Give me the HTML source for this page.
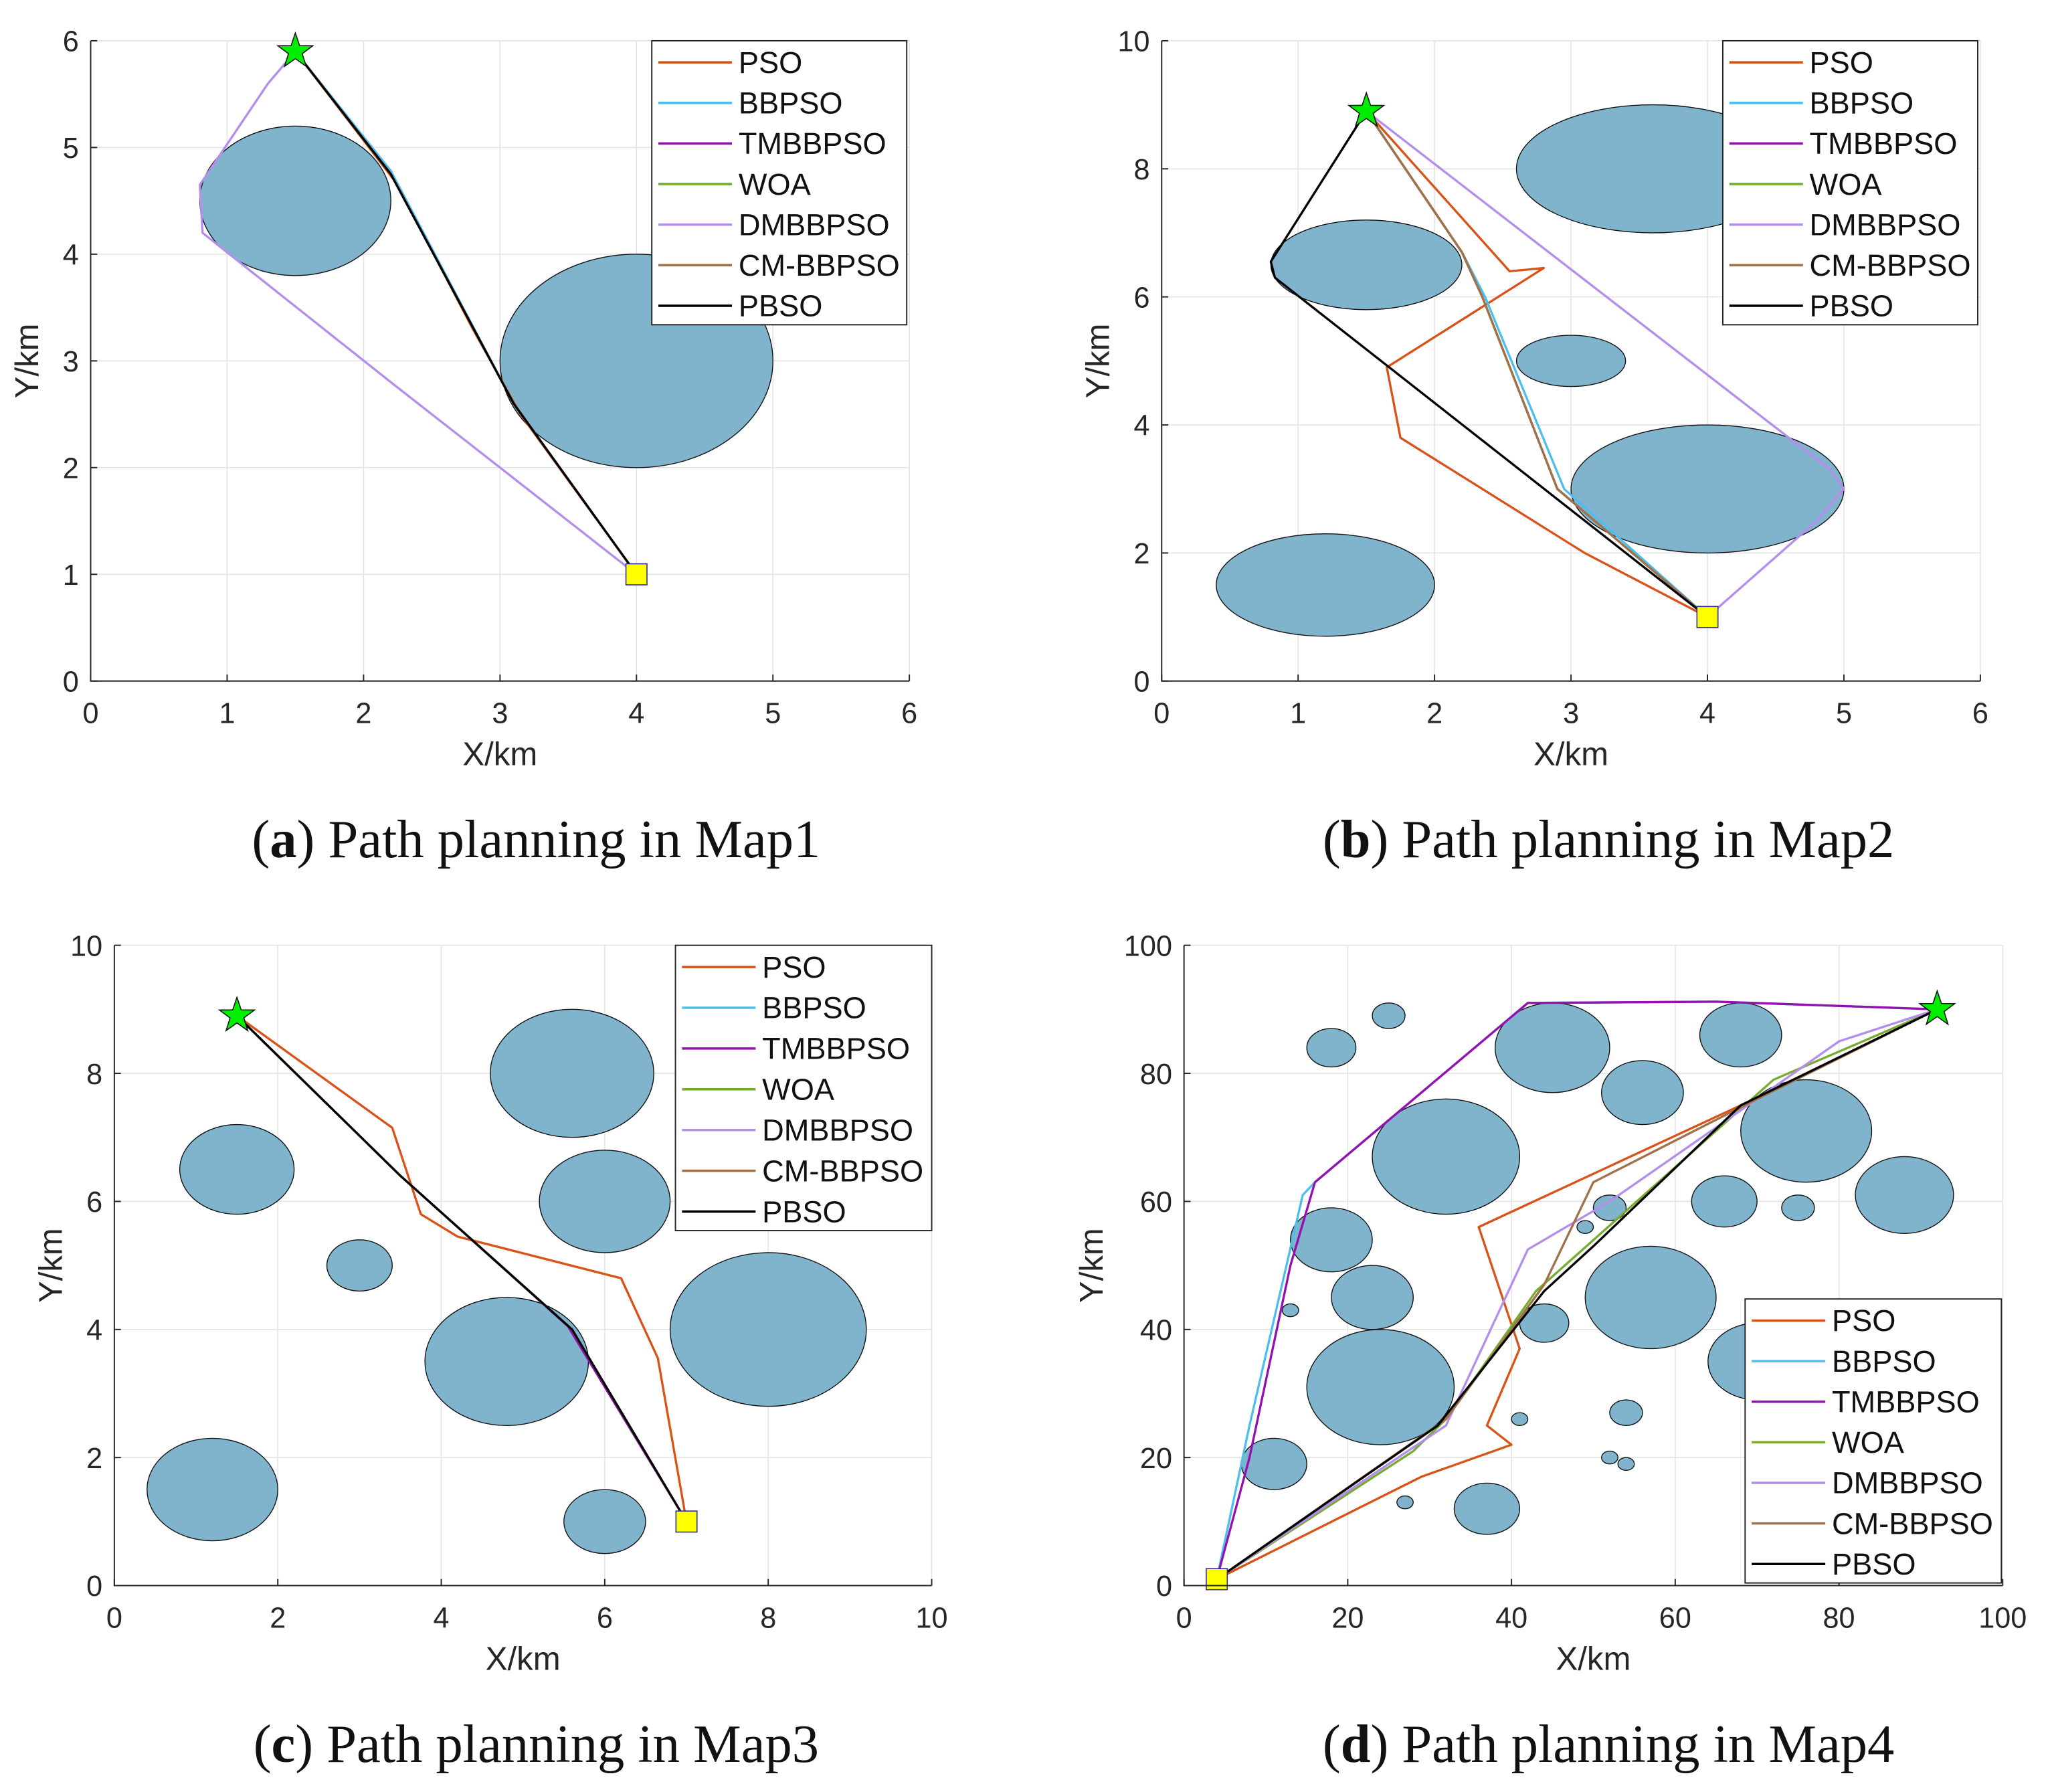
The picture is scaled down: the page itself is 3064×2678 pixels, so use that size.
<!DOCTYPE html>
<html><head><meta charset="utf-8"><style>
html,body{margin:0;padding:0;background:#fff;}
svg{display:block;}
</style></head><body>
<svg id="fig" width="3064" height="2678" viewBox="0 0 1560 1363" preserveAspectRatio="none" xmlns="http://www.w3.org/2000/svg"></svg>
<script>
// ---- series names & colors ----
const seriesNames = ["PSO","BBPSO","TMBBPSO","WOA","DMBBPSO","CM-BBPSO","PBSO"];
const seriesColors = ["#D95319","#4DBEEE","#9410B0","#77AC30","#B48EEB","#A0724A","#000000"];

// ---- Map1 data ----
const m1Obstacles = [[1.5,4.5,0.7],[4,3,1]];
const m1Start = [1.5,5.9];
const m1Goal = [4,1];
const m1PSO = [[1.5,5.9],[2.25,4.65],[2.8,3.3],[3.15,2.5],[4,1]];
const m1BBPSO = [[1.5,5.9],[2.2,4.78],[3.1,2.6],[4,1]];
const m1TMBBPSO = [[1.5,5.9],[2.2,4.75],[3.1,2.6],[4,1]];
const m1WOA = [[1.5,5.9],[2.2,4.75],[3.1,2.6],[4,1]];
const m1DMBBPSO = [[1.5,5.9],[1.3,5.6],[0.8,4.65],[0.82,4.2],[2.2,2.8],[4,1]];
const m1CMBBPSO = [[1.5,5.9],[2.2,4.75],[3.1,2.6],[4,1]];
const m1PBSO = [[1.5,5.9],[2.2,4.75],[3.1,2.6],[4,1]];

// ---- Map2 data ----
const m2Obstacles = [[3.6,8,1],[1.5,6.5,0.7],[3,5,0.4],[4,3,1],[1.2,1.5,0.8]];
const m2Start = [1.5,8.9];
const m2Goal = [4,1];
const m2PSO = [[1.5,8.9],[2.55,6.4],[2.8,6.45],[1.65,4.9],[1.75,3.8],[3.1,2.0],[4,1]];
const m2BBPSO = [[1.5,8.9],[2.2,6.7],[2.37,6.0],[2.95,3.0],[4,1]];
const m2TMBBPSO = [[1.5,8.9],[2.2,6.7],[2.35,6.0],[2.9,3.0],[4,1]];
const m2WOA = [[1.5,8.9],[2.2,6.7],[2.35,6.0],[2.9,3.0],[4,1]];
const m2DMBBPSO = [[1.5,8.9],[4.9,3.3],[5,3],[4.8,2.5],[4,1]];
const m2CMBBPSO = [[1.5,8.9],[2.2,6.7],[2.35,6.0],[2.9,3.0],[4,1]];
const m2PBSO = [[1.5,8.9],[0.8,6.55],[0.83,6.3],[4,1]];

// ---- Map3 data ----
const m3Obstacles = [[5.6,8,1],[1.5,6.5,0.7],[6,6,0.8],[3,5,0.4],[8,4,1.2],[4.8,3.5,1],[1.2,1.5,0.8],[6,1,0.5]];
const m3Start = [1.5,8.9];
const m3Goal = [7,1];
const m3PSO = [[1.5,8.9],[3.4,7.15],[3.75,5.8],[4.2,5.45],[6.2,4.8],[6.65,3.55],[7,1]];
const m3BBPSO = [[1.5,8.9],[3.5,6.4],[5.6,4],[7,1]];
const m3TMBBPSO = [[1.5,8.9],[3.5,6.4],[5.55,4.05],[7,1]];
const m3WOA = [[1.5,8.9],[3.5,6.4],[5.6,4],[7,1]];
const m3DMBBPSO = [[1.5,8.9],[3.5,6.4],[5.6,4],[7,1]];
const m3CMBBPSO = [[1.5,8.9],[3.5,6.4],[5.6,4],[7,1]];
const m3PBSO = [[1.5,8.9],[3.5,6.4],[5.6,4],[7,1]];

// ---- Map4 data ----
const m4Obstacles = [[25,89,2],[18,84,3],[45,84,7],[68,86,5],[56,77,5],[32,67,9],[76,71,8],[88,61,6],[66,60,4],[75,59,2],[52,59,2],[49,56,1],[18,54,5],[23,45,5],[13,43,1],[44,41,3],[57,45,8],[70,35,6],[24,31,9],[41,26,1],[54,27,2],[52,20,1],[54,19,1],[11,19,4],[27,13,1],[37,12,4]];
const m4Start = [92,90];
const m4Goal = [4,1];
const m4PSO = [[4,1],[29,17],[40,22],[37,25],[41,37],[36,56],[68,75],[92,90]];
const m4BBPSO = [[4,1],[8,25],[14.5,61],[16,63],[42,91],[65,91.2],[92,90]];
const m4TMBBPSO = [[4,1],[8,20],[13,50],[16,63],[42,91],[65,91.2],[92,90]];
const m4WOA = [[4,1],[28,21],[32,26],[43,46],[72,79],[92,90]];
const m4DMBBPSO = [[4,1],[32,25],[42,52.5],[52,60],[70,76],[80,85],[92,90]];
const m4CMBBPSO = [[4,1],[32,26],[44,47],[50,63],[70,76],[92,90]];
const m4PBSO = [[4,1],[31,25],[44,46],[50,53],[68,75],[92,90]];

const m1Ticks = [0,1,2,3,4,5,6];
const m10Ticks = [0,2,4,6,8,10];
const m4Ticks = [0,20,40,60,80,100];

const NS = "http://www.w3.org/2000/svg";
const fig = document.getElementById('fig');
function mk(tag, attrs, parent){
  const e = document.createElementNS(NS, tag);
  for (const k in attrs) e.setAttribute(k, attrs[k]);
  (parent||fig).appendChild(e);
  return e;
}

function panel(cfg){
  const g = mk('g', {});
  
  
  const sx = v => cfg.x0 + (v - cfg.xmin)/(cfg.xmax-cfg.xmin)*(cfg.x1-cfg.x0);
  const sy = v => cfg.y0 - (v - cfg.ymin)/(cfg.ymax-cfg.ymin)*(cfg.y0-cfg.y1);
  cfg.xticks.forEach(t=>{
    const l = mk('line',{x1:sx(t),x2:sx(t),y1:cfg.y1,y2:cfg.y0,stroke:'#e3e3e3','stroke-width':0.8},g);
    
    
  });
  cfg.yticks.forEach(t=>{
    const l = mk('line',{x1:cfg.x0,x2:cfg.x1,y1:sy(t),y2:sy(t),stroke:'#e3e3e3','stroke-width':0.8},g);
    
    
  });
  cfg.obs.forEach(o=>{
    const e = mk('ellipse',{cx:sx(o[0]),cy:sy(o[1]),rx:Math.abs(sx(o[2])-sx(0)),ry:Math.abs(sy(o[2])-sy(0)),fill:'#80B3CC',stroke:'#111','stroke-width':0.7},g);
    
    
  });
  cfg.paths.forEach((p,i)=>{
    const pl = mk('polyline',{points:p.map(q=>sx(q[0])+','+sy(q[1])).join(' '),fill:'none',stroke:seriesColors[i],'stroke-width':1.7,'stroke-linejoin':'round'},g);
    
    
  });
  const gx = sx(cfg.goal[0]), gy = sy(cfg.goal[1]);
  const sq = mk('rect',{x:gx-8,y:gy-8,width:16,height:16,fill:'#FFFF00',stroke:'#2a2aa0','stroke-width':0.8},g);
  
  
  const cx = sx(cfg.start[0]), cy = sy(cfg.start[1]);
  let pts=[];
  for(let k=0;k<10;k++){const r=k%2?5.5:14;const a=-Math.PI/2+k*Math.PI/5;pts.push((cx+r*Math.cos(a))+','+(cy+r*Math.sin(a)));}
  const st = mk('polygon',{points:pts.join(' '),fill:'#00EE00',stroke:'#111','stroke-width':0.8},g);
  
  
  const ax = mk('path',{d:`M${cfg.x0},${cfg.y1} V${cfg.y0} H${cfg.x1}`,fill:'none',stroke:'#262626','stroke-width':1},g);
  
  
  cfg.xticks.forEach(t=>{
    mk('line',{x1:sx(t),x2:sx(t),y1:cfg.y0,y2:cfg.y0-5,stroke:'#262626','stroke-width':1},g);
    const tx = mk('text',{x:sx(t),y:cfg.y0+32,'font-size':22,'text-anchor':'middle',fill:'#262626','font-family':'Liberation Sans, sans-serif'},g);
    tx.textContent = t;
    
    
  });
  cfg.yticks.forEach(t=>{
    mk('line',{x1:cfg.x0,x2:cfg.x0+5,y1:sy(t),y2:sy(t),stroke:'#262626','stroke-width':1},g);
    const tx = mk('text',{x:cfg.x0-9,y:sy(t)+8,'font-size':22,'text-anchor':'end',fill:'#262626','font-family':'Liberation Sans, sans-serif'},g);
    tx.textContent = t;
    
    
  });
  const xl = mk('text',{x:(cfg.x0+cfg.x1)/2,y:cfg.y0+64,'font-size':25,'text-anchor':'middle',fill:'#262626','font-family':'Liberation Sans, sans-serif'},g);
  xl.textContent='X/km';
  
  
  const ylx = cfg.x0 - (cfg.ymax>=100?62:40), yly=(cfg.y0+cfg.y1)/2;
  const yl = mk('text',{x:ylx,y:yly,'font-size':25,'text-anchor':'middle',fill:'#262626','font-family':'Liberation Sans, sans-serif',transform:`rotate(-90 ${ylx} ${yly})`},g);
  yl.textContent='Y/km';
  
  
  const L = cfg.legend;
  const lg = mk('g',{},g);
  
  
  mk('rect',{x:L[0],y:L[1],width:L[2]-L[0],height:L[3]-L[1],fill:'#fff',stroke:'#262626','stroke-width':1},lg);
  const step = (L[3]-L[1])/7;
  seriesNames.forEach((n,i)=>{
    const yy = L[1]+step*(i+0.5)+1;
    const ent = mk('g',{},lg);
    
    
    mk('line',{x1:L[0]+5,x2:L[0]+61,y1:yy,y2:yy,stroke:seriesColors[i],'stroke-width':1.8},ent);
    const t = mk('text',{x:L[0]+66,y:yy+8,'font-size':23,fill:'#111','font-family':'Liberation Sans, sans-serif'},ent);
    t.textContent=n;
  });
  const cap = mk('text',{x:cfg.capx,y:cfg.capy,'font-size':41,'text-anchor':'middle',fill:'#111','font-family':'Liberation Serif, serif'},g);
  
  
  const b = document.createElementNS(NS,'tspan'); b.textContent='(';
  cap.appendChild(b);
  const bb = document.createElementNS(NS,'tspan'); bb.setAttribute('font-weight','bold'); bb.textContent=cfg.letter;
  cap.appendChild(bb);
  const rest = document.createElementNS(NS,'tspan'); rest.textContent=') Path planning in '+cfg.map;
  cap.appendChild(rest);
}

panel({name:'map1-panel',x0:69,x1:692,y0:518,y1:31,xmin:0,xmax:6,ymin:0,ymax:6,xticks:m1Ticks,yticks:m1Ticks,
  obs:m1Obstacles,start:m1Start,goal:m1Goal,paths:[m1PSO,m1BBPSO,m1TMBBPSO,m1WOA,m1DMBBPSO,m1CMBBPSO,m1PBSO],
  legend:[496,31,690,247],capx:408,capy:652,letter:'a',map:'Map1'});
panel({name:'map2-panel',x0:884,x1:1507,y0:518,y1:31,xmin:0,xmax:6,ymin:0,ymax:10,xticks:m1Ticks,yticks:m10Ticks,
  obs:m2Obstacles,start:m2Start,goal:m2Goal,paths:[m2PSO,m2BBPSO,m2TMBBPSO,m2WOA,m2DMBBPSO,m2CMBBPSO,m2PBSO],
  legend:[1311,31,1505,247],capx:1224,capy:652,letter:'b',map:'Map2'});
panel({name:'map3-panel',x0:87,x1:709,y0:1206,y1:719,xmin:0,xmax:10,ymin:0,ymax:10,xticks:m10Ticks,yticks:m10Ticks,
  obs:m3Obstacles,start:m3Start,goal:m3Goal,paths:[m3PSO,m3BBPSO,m3TMBBPSO,m3WOA,m3DMBBPSO,m3CMBBPSO,m3PBSO],
  legend:[514,719,709,936],capx:408,capy:1340,letter:'c',map:'Map3'});
panel({name:'map4-panel',x0:901,x1:1524,y0:1206,y1:719,xmin:0,xmax:100,ymin:0,ymax:100,xticks:m4Ticks,yticks:m4Ticks,
  obs:m4Obstacles,start:m4Start,goal:m4Goal,paths:[m4PSO,m4BBPSO,m4TMBBPSO,m4WOA,m4DMBBPSO,m4CMBBPSO,m4PBSO],
  legend:[1328,988,1523,1204],capx:1224,capy:1340,letter:'d',map:'Map4'});
</script>
</body></html>
